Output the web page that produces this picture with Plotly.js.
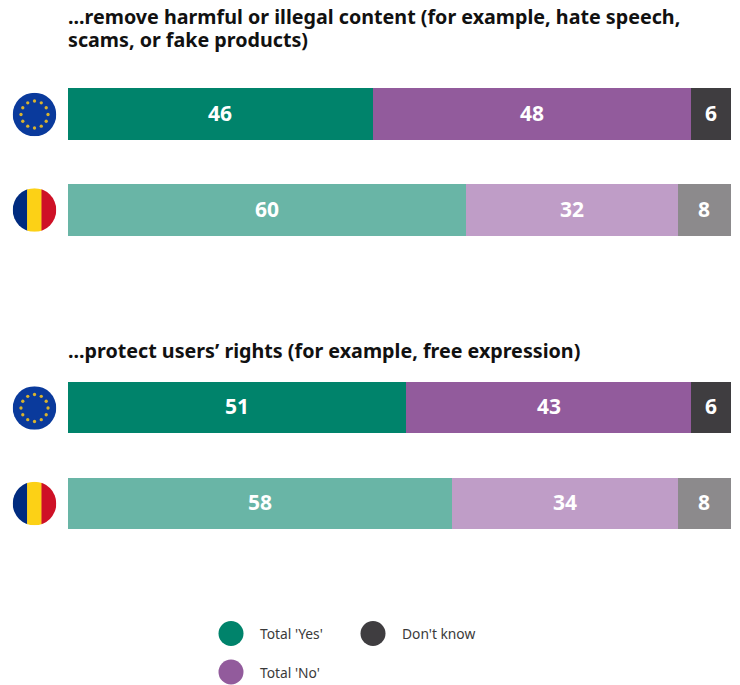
<!DOCTYPE html>
<html><head><meta charset="utf-8">
<script src="https://cdn.plot.ly/plotly-3.0.1.min.js"></script>
<style>html,body{margin:0;padding:0;background:#fff}</style></head>
<body><div id="chart" style="width:740px;height:685px"></div>
<script>
const categories = ['EU', 'RO'];
const titleTopLines = ['...remove harmful or illegal content (for example, hate speech,', 'scams, or fake products)'];
const titleBottom = '...protect users\u2019 rights (for example, free expression)';
const yesTop = [46, 60], noTop = [48, 32], dkTop = [6, 8];
const yesBottom = [51, 58], noBottom = [43, 34], dkBottom = [6, 8];
const seriesNames = ["Total 'Yes'", "Total 'No'", "Don't know"];
const yesColors = ['#00836b', '#69b5a6'];
const noColors = ['#925b9c', '#bf9dc7'];
const dkColors = ['#3f3d40', '#8c8a8c'];
const W = 740, H = 685;
const FONT = '"Noto Sans", sans-serif';
const px = v => v / W, py = v => 1 - v / H;

function bar(name, x, colors, xa, ya) {
  return {type: 'bar', orientation: 'h', name, x, y: categories, xaxis: xa, yaxis: ya,
    marker: {color: colors, line: {width: 0}}, textposition: 'none', hoverinfo: 'x+name', showlegend: false};
}
const traces = [
  bar(seriesNames[0], yesTop, yesColors, 'x', 'y'), bar(seriesNames[1], noTop, noColors, 'x', 'y'), bar(seriesNames[2], dkTop, dkColors, 'x', 'y'),
  bar(seriesNames[0], yesBottom, yesColors, 'x2', 'y2'), bar(seriesNames[1], noBottom, noColors, 'x2', 'y2'), bar(seriesNames[2], dkBottom, dkColors, 'x2', 'y2')
];

function valueLabels(groups, xa, ya) {
  const out = [];
  categories.forEach((cat, c) => {
    let start = 0;
    groups.forEach(g => {
      out.push({text: String(g[c]), xref: xa, yref: ya, x: start + g[c] / 2, y: cat, showarrow: false, yshift: 1.5,
        font: {family: FONT, size: 21, color: '#fff', weight: 700}});
      start += g[c];
    });
  });
  return out;
}

const euStars = Array.from({length: 12}, (_, i) => {
  const a = i * Math.PI / 6;
  return `<circle cx="${50 + 31 * Math.sin(a)}" cy="${50 - 31 * Math.cos(a)}" r="3.8" fill="#d9b32e"/>`;
}).join('');
const euSvg = `<svg xmlns="http://www.w3.org/2000/svg" width="100" height="100"><circle cx="50" cy="50" r="50" fill="#0a3a9c"/>${euStars}</svg>`;
const roSvg = `<svg xmlns="http://www.w3.org/2000/svg" width="100" height="100"><defs><clipPath id="c"><circle cx="50" cy="50" r="50"/></clipPath></defs><g clip-path="url(#c)"><rect width="34" height="100" fill="#002b7f"/><rect x="33" width="34" height="100" fill="#fcd116"/><rect x="66" width="34" height="100" fill="#ce1126"/></g></svg>`;
const uri = s => 'data:image/svg+xml;base64,' + btoa(s);
const flag = (s, cy) => ({source: uri(s), xref: 'paper', yref: 'paper', x: px(12.7), y: py(cy - 21.8), sizex: px(43.6), sizey: 43.6 / H, sizing: 'stretch', xanchor: 'left', yanchor: 'top', layer: 'above'});

const title = (text, y) => ({text, xref: 'paper', yref: 'paper', x: px(65.5), y: py(y), xanchor: 'left', yanchor: 'middle', align: 'left', showarrow: false, font: {family: FONT, size: 19.7, color: '#111', weight: 700}});
const legendItems = [[231, 633.5, 0, yesColors[0]], [231, 672, 1, noColors[0]], [373, 633.5, 2, dkColors[0]]];
const shapes = legendItems.map(([x, y, , c]) => ({type: 'circle', xref: 'paper', yref: 'paper', x0: px(x - 12.5), x1: px(x + 12.5), y0: py(y + 12.5), y1: py(y - 12.5), fillcolor: c, line: {width: 0}}));
const legendLabels = legendItems.map(([x, y, i]) => ({text: seriesNames[i], xref: 'paper', yref: 'paper', x: px(x + 26.5), y: py(y), xanchor: 'left', yanchor: 'middle', showarrow: false, font: {family: FONT, size: 13.8, color: '#3a3a3a'}}));

const xBase = {domain: [px(67.5), px(731)], range: [0, 100], visible: false, fixedrange: true};
const yBase = {type: 'category', categoryorder: 'array', categoryarray: categories, range: [1.5, -0.5], visible: false, fixedrange: true};
const layout = {
  width: W, height: H, margin: {l: 0, r: 0, t: 0, b: 0}, barmode: 'stack', bargap: 0.464,
  paper_bgcolor: '#fff', plot_bgcolor: '#fff', showlegend: false,
  xaxis: {...xBase}, xaxis2: {...xBase},
  yaxis: {...yBase, domain: [py(258), py(66)]},
  yaxis2: {...yBase, domain: [py(551), py(360)]},
  images: [flag(euSvg, 114.5), flag(roSvg, 210), flag(euSvg, 408), flag(roSvg, 503.5)],
  shapes,
  annotations: [title(titleTopLines[0], 16.5), title(titleTopLines[1], 39.5), title(titleBottom, 350), ...legendLabels,
    ...valueLabels([yesTop, noTop, dkTop], 'x', 'y'), ...valueLabels([yesBottom, noBottom, dkBottom], 'x2', 'y2')]
};
Plotly.newPlot('chart', traces, layout, {displayModeBar: false, staticPlot: true});
</script></body></html>
